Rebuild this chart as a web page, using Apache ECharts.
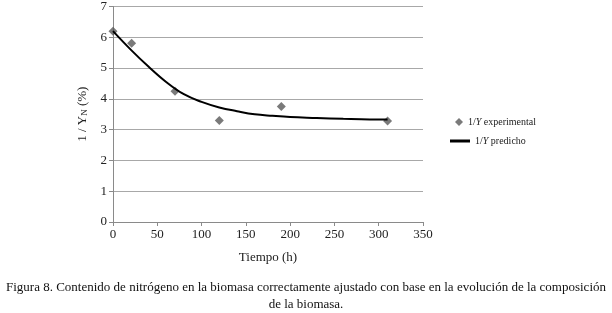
<!DOCTYPE html>
<html><head><meta charset="utf-8">
<script src="https://cdn.jsdelivr.net/npm/echarts@6/dist/echarts.min.js"></script>
<style>html,body{margin:0;padding:0;background:#fff}#c{width:612px;height:313px}</style>
</head><body><div id="c"></div>
<script>
// Experimental points
var expX = [0, 21, 70, 120, 190, 310];
var expY = [6.2, 5.81, 4.25, 3.3, 3.75, 3.28];
// Predicted curve
var predX = [0, 20, 40, 60, 80, 100, 120, 140, 160, 180, 200, 230, 260, 290, 310];
var predY = [6.2, 5.6, 5.05, 4.55, 4.15, 3.9, 3.72, 3.6, 3.5, 3.45, 3.41, 3.38, 3.35, 3.33, 3.33];
var xTicks = [0, 50, 100, 150, 200, 250, 300, 350];
var yTicks = [0, 1, 2, 3, 4, 5, 6, 7];

var serif = 'Liberation Serif';
var chart = echarts.init(document.getElementById('c'));
chart.setOption({
  animation: false,
  backgroundColor: '#fff',
  grid: {left: 113, right: 189, top: 4, bottom: 91},
  xAxis: {
    type: 'value', min: xTicks[0], max: xTicks[xTicks.length-1], interval: 50,
    name: 'Tiempo (h)', nameLocation: 'middle', nameGap: 29,
    nameTextStyle: {fontFamily: serif, fontSize: 13, color: '#222'},
    axisLine: {lineStyle: {color: '#8a8a8a'}},
    axisTick: {show: true, length: 4, lineStyle: {color: '#8a8a8a'}},
    axisLabel: {fontFamily: serif, fontSize: 13, color: '#222', margin: 6},
    splitLine: {show: false}
  },
  yAxis: {
    type: 'value', min: yTicks[0], max: yTicks[yTicks.length-1], interval: 1,
    name: '{a|1 / Y}{s|N}{a| (%)}', nameLocation: 'middle', nameGap: 18, nameRotate: 90,
    nameTextStyle: {rich: {
      a: {fontFamily: serif, fontSize: 13, color: '#222'},
      s: {fontFamily: serif, fontSize: 9, color: '#222', padding: [6, 0, 0, 0]}
    }},
    axisLine: {show: true, lineStyle: {color: '#8a8a8a'}},
    axisTick: {show: true, length: 4, lineStyle: {color: '#8a8a8a'}},
    axisLabel: {fontFamily: serif, fontSize: 13, color: '#222', margin: 6},
    splitLine: {lineStyle: {color: '#a8a8a8', width: 1}}
  },
  legend: [{
    left: 450, top: 112, orient: 'vertical', itemWidth: 8, itemHeight: 8, itemGap: 4,
    data: [{name: 'exp', icon: 'diamond'}],
    formatter: function(){ return '{a|1/}{i|Y}{a| experimental}'; },
    textStyle: {rich: {
      a: {fontFamily: serif, fontSize: 10, color: '#222'},
      i: {fontFamily: serif, fontSize: 10, fontStyle: 'italic', color: '#222'}
    }}
  }, {
    left: 445, top: 131, orient: 'vertical', itemWidth: 20, itemHeight: 3, itemGap: 1,
    data: [{name: 'pred', icon: 'rect'}],
    formatter: function(){ return '{a|1/}{i|Y}{a| predicho}'; },
    textStyle: {rich: {
      a: {fontFamily: serif, fontSize: 10, color: '#222'},
      i: {fontFamily: serif, fontSize: 10, fontStyle: 'italic', color: '#222'}
    }}
  }],
  series: [{
    name: 'pred', type: 'line', smooth: 0.4, showSymbol: false, symbol: 'none',
    data: predX.map(function(x, i){ return [x, predY[i]]; }),
    lineStyle: {color: '#000', width: 2}, itemStyle: {color: '#000'}
  }, {
    name: 'exp', type: 'scatter', symbol: 'diamond', symbolSize: 9,
    data: expX.map(function(x, i){ return [x, expY[i]]; }),
    itemStyle: {color: '#595959'}
  }],
  graphic: [{
    type: 'text', left: 'center', top: 281,
    style: {text: 'Figura 8. Contenido de nitrógeno en la biomasa correctamente ajustado con base en la evolución de la composición',
      font: '13px "Liberation Serif"', fill: '#111'}
  }, {
    type: 'text', left: 'center', top: 298,
    style: {text: 'de la biomasa.', font: '13px "Liberation Serif"', fill: '#111'}
  }]
});
</script></body></html>
